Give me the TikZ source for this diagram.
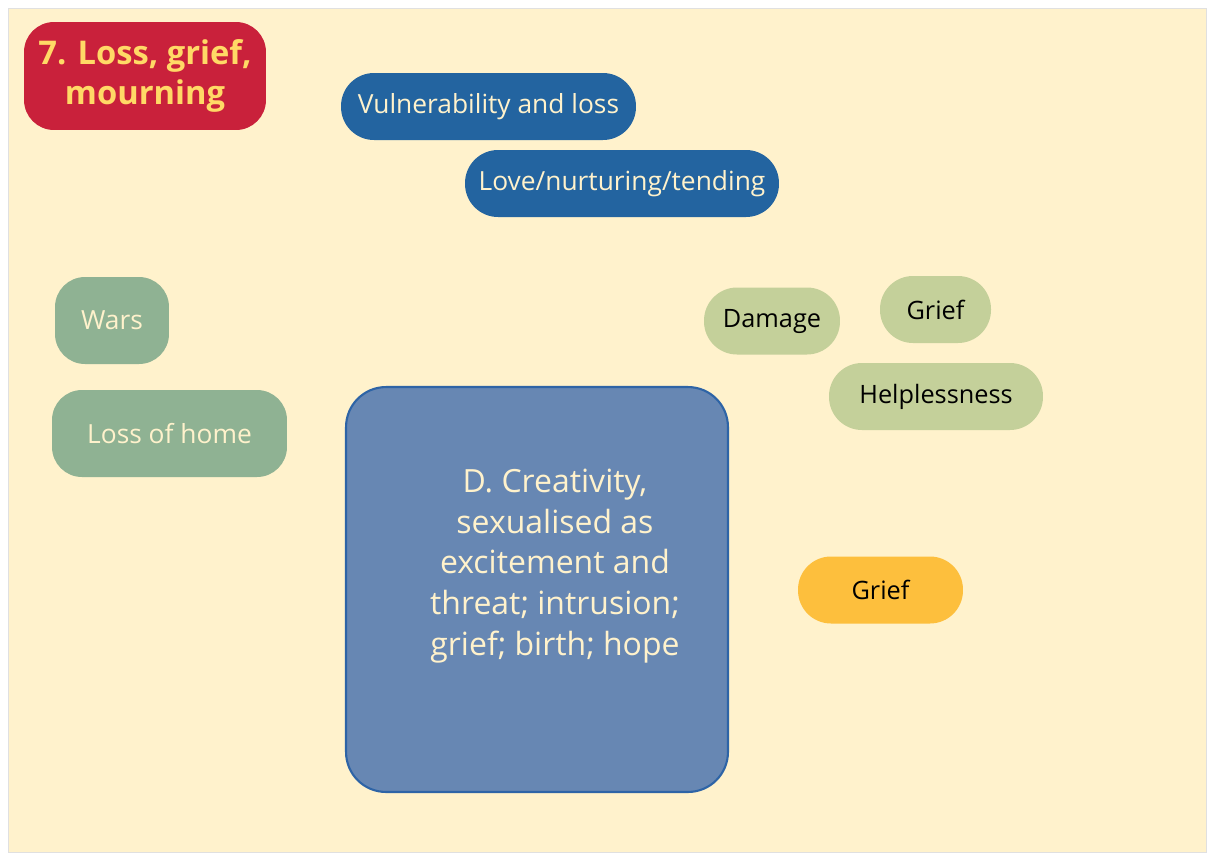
\documentclass[tikz,border=0pt]{standalone}
\usepackage{fontspec}
\setmainfont{Open Sans}
\usetikzlibrary{positioning}

\definecolor{paper}{HTML}{FFF2CC}
\definecolor{titlered}{HTML}{C9213B}
\definecolor{titletext}{HTML}{FFD966}
\definecolor{deepblue}{HTML}{2364A0}
\definecolor{sage}{HTML}{8FB293}
\definecolor{leaf}{HTML}{C4D09A}
\definecolor{boxblue}{HTML}{6787B3}
\definecolor{boxedge}{HTML}{2E64A6}
\definecolor{amber}{HTML}{FDBF3D}

\begin{document}
\begin{tikzpicture}[
    x=0.02cm, y=-0.02cm,
    pill/.style={
        rounded corners=0.66cm,
        minimum height=1.34cm,
        inner sep=0pt,
        align=center
    },
    bluepill/.style={pill, fill=deepblue, text=paper, font=\fontsize{15}{18}\selectfont},
    sagebox/.style={pill, fill=sage, text=paper, rounded corners=0.6cm,
        minimum height=1.74cm, font=\fontsize{15}{18}\selectfont},
    leafpill/.style={pill, fill=leaf, text=black, font=\fontsize{14.4}{17}\selectfont},
    amberpill/.style={pill, fill=amber, text=black, font=\fontsize{14.4}{17}\selectfont}
]
\useasboundingbox (0,0) rectangle (1207,853);
\fill[white] (0,0) rectangle (1207,853);
\filldraw[fill=paper, draw=black!12] (8,8) rectangle (1206,852);

% title
\node[pill, fill=titlered, text=titletext, rounded corners=0.6cm,
    minimum width=4.84cm, minimum height=2.16cm,
    font=\bfseries\fontsize{18.6}{22.7}\selectfont] (title) at (145,76)
    {7. Loss, grief,\\mourning};

% blue themes
\node[bluepill, minimum width=5.9cm] (vuln) at (488.5,106.5) {Vulnerability and loss};
\node[bluepill, minimum width=6.28cm] (love) at (622,183.5) {Love/nurturing/tending};

% left column
\node[sagebox, minimum width=2.28cm] (wars) at (112,320.5) {Wars};
\node[sagebox, minimum width=4.7cm] (home) at (169.5,433.5) {Loss of home};

% right cluster
\node[leafpill, minimum width=2.72cm] (damage) at (772,321) {Damage};
\node[leafpill, minimum width=2.22cm] (griefa) at (935.5,309.5) {Grief};
\node[leafpill, minimum width=4.28cm] (help) at (936,396.5) {Helplessness};
\node[amberpill, minimum width=3.3cm] (griefb) at (880.5,590) {Grief};

% central box
\node[draw=boxedge, line width=1.2pt, fill=boxblue, rounded corners=0.8cm,
    minimum width=7.64cm, minimum height=8.1cm] (creat) at (537,589.5) {};
\node[text=paper, align=center, font=\fontsize{18.2}{23.2}\selectfont] (creattext)
    at (555,566) {D. Creativity,\\sexualised as\\excitement and\\threat; intrusion;\\grief; birth; hope};
\end{tikzpicture}
\end{document}
